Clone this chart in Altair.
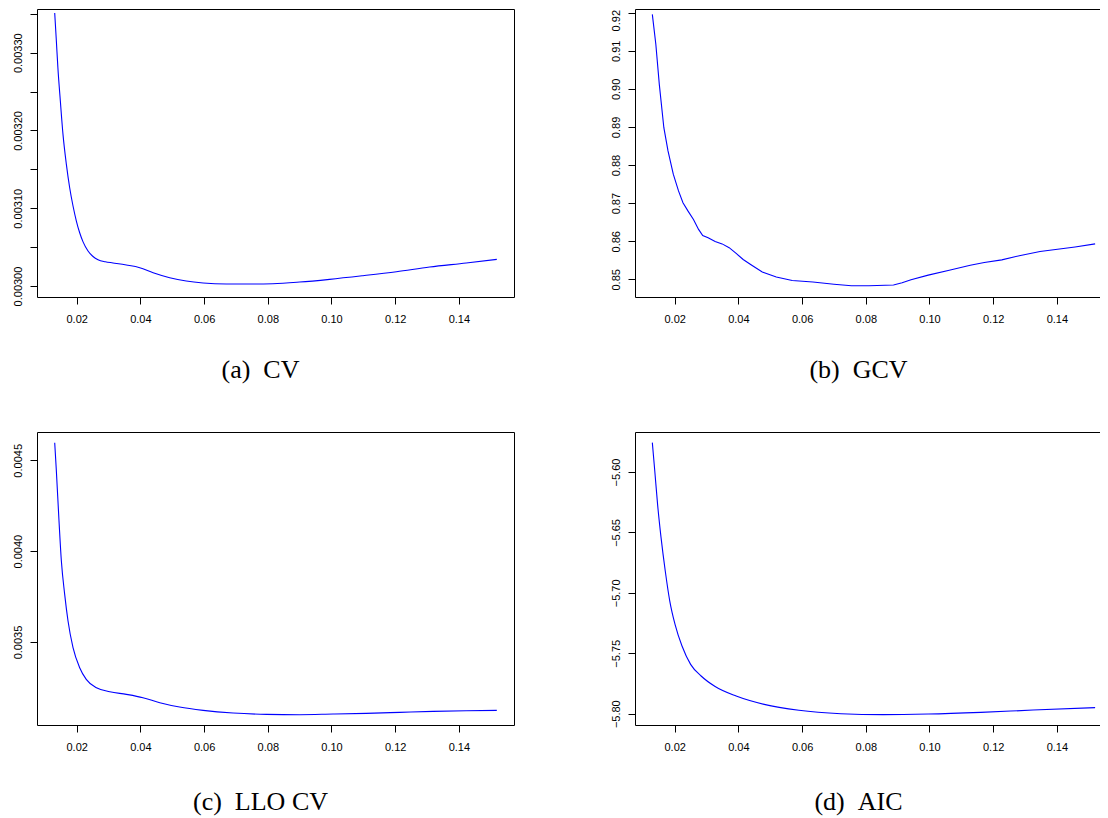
import altair as alt
import pandas as pd

# shared x ticks (bandwidth)
x_ticks = [0.02, 0.04, 0.06, 0.08, 0.10, 0.12, 0.14]

# (a) CV
cv_h = [0.0131, 0.01362, 0.0141, 0.01487, 0.0157, 0.01676, 0.0178, 0.01885, 0.0199, 0.02094,
        0.0220, 0.02356, 0.02513, 0.0267, 0.0290, 0.0314, 0.0356, 0.0398, 0.0440, 0.0492,
        0.0544, 0.0597, 0.0670, 0.0743, 0.0816, 0.0900, 0.0994, 0.1099, 0.1204, 0.1308,
        0.1423, 0.1519]
cv_val = [0.003351, 0.003315, 0.0032807, 0.0032379, 0.003195, 0.0031565, 0.0031264, 0.0031029,
          0.0030836, 0.0030685, 0.0030568, 0.0030451, 0.0030380, 0.0030338, 0.0030312, 0.0030297,
          0.003027, 0.0030236, 0.0030171, 0.0030107, 0.0030064, 0.0030039, 0.0030026, 0.0030026,
          0.003003, 0.0030051, 0.0030086, 0.0030133, 0.0030184, 0.0030244, 0.0030296, 0.0030343]
cv_ticks = [0.00300, 0.00305, 0.00310, 0.00315, 0.00320, 0.00325, 0.00330, 0.00335]
cv_labelled = [0.00300, 0.00310, 0.00320, 0.00330]

# (b) GCV
gcv_h = [0.01298, 0.01408, 0.01517, 0.0166, 0.0179, 0.01956, 0.0212, 0.0226, 0.0242, 0.0259,
         0.0275, 0.0288, 0.0305, 0.0327, 0.0349, 0.0371, 0.0393, 0.0415, 0.0442, 0.0475,
         0.0519, 0.0569, 0.0634, 0.0700, 0.0755, 0.0810, 0.0887, 0.0914, 0.0942, 0.0996,
         0.1062, 0.1128, 0.1172, 0.1227, 0.1282, 0.1347, 0.1402, 0.1457, 0.1520]
gcv_val = [0.91956, 0.9117, 0.90118, 0.8898, 0.8837, 0.8776, 0.8732, 0.8701, 0.8679, 0.8657,
           0.8631, 0.8615, 0.8609, 0.8599, 0.8593, 0.8583, 0.8568, 0.8552, 0.8537, 0.8519,
           0.8506, 0.8497, 0.8493, 0.8487, 0.8483, 0.8483, 0.8485, 0.8491, 0.8499, 0.8511,
           0.8524, 0.8537, 0.8544, 0.8551, 0.8562, 0.8573, 0.8579, 0.8585, 0.8593]
gcv_ticks = [0.85, 0.86, 0.87, 0.88, 0.89, 0.90, 0.91, 0.92]

# (c) LLO CV
llo_h = [0.0131, 0.01362, 0.01445, 0.01519, 0.01623, 0.01728, 0.01885, 0.02094, 0.0230, 0.0262,
         0.0304, 0.0356, 0.0408, 0.0461, 0.0523, 0.0597, 0.0691, 0.0796, 0.0900, 0.1005,
         0.1109, 0.1214, 0.1319, 0.1423, 0.1519]
llo_val = [0.004597, 0.004441, 0.004166, 0.0039459, 0.0037624, 0.0036156, 0.0034688, 0.0033587,
           0.0032945, 0.0032486, 0.0032266, 0.0032119, 0.0031936, 0.0031661, 0.0031422, 0.0031239,
           0.0031092, 0.0031018, 0.0031, 0.0031037, 0.0031073, 0.0031128, 0.0031183, 0.003122,
           0.0031239]
llo_ticks = [0.0035, 0.0040, 0.0045]

# (d) AIC
aic_h = [0.01298, 0.01375, 0.01463, 0.01572, 0.01704, 0.01846, 0.02011, 0.0223, 0.0250, 0.0283,
         0.0327, 0.0393, 0.0481, 0.0590, 0.0722, 0.0854, 0.0996, 0.1161, 0.1325, 0.1520]
aic_val = [-5.5757, -5.5992, -5.6268, -5.6543, -5.6819, -5.7068, -5.7261, -5.7440, -5.7592, -5.7688,
           -5.7775, -5.7854, -5.7923, -5.7972, -5.8000, -5.8008, -5.8003, -5.7989, -5.7970, -5.7950]
aic_ticks = [-5.80, -5.75, -5.70, -5.65, -5.60]

captions = ["(a)\u2002CV", "(b)\u2002GCV", "(c)\u2002LLO\u00a0CV", "(d)\u2002AIC"]

X_DOMAIN = [0.00754, 0.1573]
W = 477


def panel(xs, ys, ydom, yticks, yfmt, h, caption, toff, interp, label_expr=None,
          label_offset=0):
    df = pd.DataFrame({"h": xs, "v": ys})
    yaxis_kw = dict(values=yticks, format=yfmt, title=None, labelAngle=270,
                    labelAlign="center", labelBaseline="bottom", labelPadding=6.5,
                    labelOffset=label_offset)
    if label_expr is not None:
        yaxis_kw["labelExpr"] = label_expr
    return alt.Chart(df).mark_line(
        color="#0000ff", strokeWidth=1.1, interpolate=interp, clip=True
    ).encode(
        x=alt.X("h:Q", scale=alt.Scale(domain=X_DOMAIN, nice=False, zero=False),
                axis=alt.Axis(values=x_ticks, format=".2f", title=None, labelPadding=9)),
        y=alt.Y("v:Q", scale=alt.Scale(domain=ydom, nice=False, zero=False),
                axis=alt.Axis(**yaxis_kw)),
    ).properties(
        width=W, height=h,
        title=alt.TitleParams(text=caption, orient="bottom", anchor="middle",
                              baseline="alphabetic", offset=toff, dx=-15,
                              font="Liberation Serif", fontSize=26,
                              fontWeight="normal", color="black"),
    )


labelled_int = [int(round(v * 100000)) for v in cv_labelled]
cv_expr = ("indexof(%s, round(datum.value * 100000)) >= 0 ? format(datum.value, '.5f') : ''"
           % str(labelled_int))

# keep the topmost GCV label inside the page
top_gcv_offset = {"condition": {"test": "datum.value > %s" % (gcv_ticks[-1] - 0.005),
                                "value": 7.5}, "value": 0}

pa = panel(cv_h, cv_val, [0.0029859, 0.0033562], cv_ticks, ".5f", 288, captions[0], 54,
           "monotone", cv_expr)
pb = panel(gcv_h, gcv_val, [0.845354, 0.92097], gcv_ticks, ".2f", 288, captions[1], 54,
           "linear", label_offset=top_gcv_offset)
pc = panel(llo_h, llo_val, [0.0030432, 0.0046558], llo_ticks, ".4f", 293, captions[2], 58,
           "monotone")
pd_ = panel(aic_h, aic_val, [-5.80935, -5.5669], aic_ticks, ".2f", 293, captions[3], 58,
            "monotone")

chart = alt.concat(
    pa, pb, pc, pd_, columns=2, spacing={"row": 135, "column": 121}, bounds="flush"
).properties(
    padding={"top": 0, "left": 3, "right": -13, "bottom": 0},
    background="white",
).configure_axis(
    domain=False, grid=False, ticks=True, tickSize=7, tickColor="black", tickWidth=1,
    labelFont="Liberation Sans", labelFontSize=11, labelColor="black",
    labelOverlap=False, labelFlush=False,
).configure_view(
    stroke="black", strokeWidth=1
)

chart.save("out.html", embed_options={"renderer": "svg", "actions": False})
